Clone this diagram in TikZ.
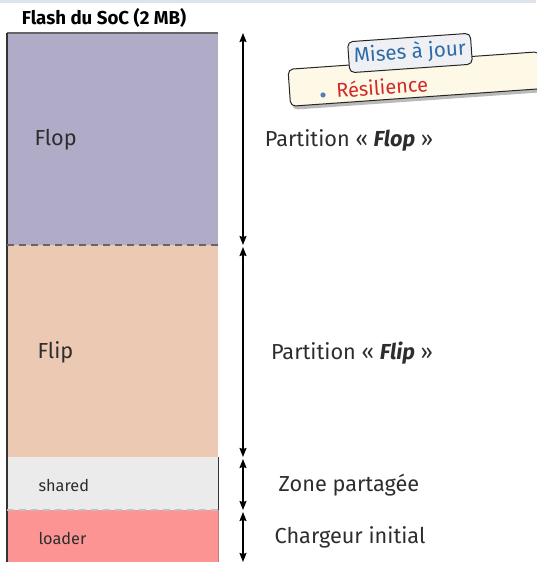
\documentclass[tikz,border=0pt]{standalone}
\usepackage{fontspec}
\setmainfont{Fira Sans}
\usetikzlibrary{arrows.meta,shadows}

\definecolor{flopcol}{RGB}{176,171,198}
\definecolor{flipcol}{RGB}{236,201,178}
\definecolor{sharedcol}{RGB}{235,235,235}
\definecolor{loadercol}{RGB}{252,148,148}
\definecolor{txtcol}{RGB}{45,45,45}
\definecolor{bandcol}{RGB}{222,228,236}
\definecolor{notecol}{RGB}{253,249,230}
\definecolor{tabcol}{RGB}{238,240,244}
\definecolor{tabtxt}{RGB}{46,106,166}
\definecolor{redtxt}{RGB}{212,40,40}

\tikzset{
  region/.style={inner sep=0pt, outer sep=0pt, minimum width=211pt, anchor=north west},
  inlabel/.style={anchor=west, text=txtcol, font=\fontsize{21.7}{25}\selectfont},
  smalllabel/.style={anchor=west, text=txtcol, font=\fontsize{16.3}{19}\selectfont},
  sidelabel/.style={text=txtcol, font=\fontsize{21.7}{25}\selectfont},
  span/.style={line width=1.3pt, {Stealth[length=9pt,width=7pt,inset=1pt]}-{Stealth[length=9pt,width=7pt,inset=1pt]}},
  sep/.style={dashed, dash pattern=on 7pt off 5pt, line width=1.2pt, draw=black!60},
}

\begin{document}
\begin{tikzpicture}[x=1pt,y=1pt]
\useasboundingbox (0,0) rectangle (536,-562);
\fill[bandcol] (0,0) rectangle (536,-3);

% title
\node[text=black, font=\fontsize{18.7}{22}\selectfont\bfseries] (title) at (104,-18) {Flash du SoC (2 MB)};

% flash memory regions
\node[region, fill=flopcol, minimum height=212pt] (flop) at (7,-33) {};
\node[region, fill=flipcol, minimum height=212pt] (flip) at (7,-245) {};
\node[region, fill=sharedcol, minimum height=53pt] (shared) at (7,-457) {};
\node[region, fill=loadercol, minimum height=52pt] (loader) at (7,-510) {};

\draw[line width=1.2pt, black!60] (flop.north west) -- (flop.north east);
\draw[line width=1.2pt, black!80] (flop.north west) -- (loader.south west);
\draw[line width=1pt, black!80] (shared.north east) -- (shared.south east);
\draw[line width=0.8pt, loadercol!80!black] (loader.north east) -- (loader.south east);
\draw[sep] (flop.south west) -- (flop.south east);
\draw[sep, draw=black!25] (shared.south west) -- (shared.south east);

\node[inlabel] (floplbl) at (31,-140) {Flop};
\node[inlabel] (fliplbl) at (34,-352) {Flip};
\node[smalllabel] (sharedlbl) at (35,-485) {shared};
\node[smalllabel] (loaderlbl) at (35,-538) {loader};

% extents
\coordinate (a0) at (243,-33);
\coordinate (a1) at (243,-245);
\coordinate (a2) at (243,-247);
\coordinate (a3) at (243,-457);
\coordinate (a4) at (243,-459);
\coordinate (a5) at (243,-510);
\coordinate (a6) at (243,-512);
\coordinate (a7) at (243,-562);
\draw[span] (a0) -- (a1);
\draw[span] (a2) -- (a3);
\draw[span] (a4) -- (a5);
\draw[span] (a6) -- (a7);

\node[sidelabel] (flopside) at (349,-140) {Partition « \textbf{\textit{Flop}} »};
\node[sidelabel] (flipside) at (352,-353) {Partition « \textbf{\textit{Flip}} »};
\node[sidelabel] (sharedside) at (349,-485) {Zone partagée};
\node[sidelabel] (loaderside) at (350,-537) {Chargeur initial};

% sticky note
\node[rotate=4, draw=black!85, line width=1pt, fill=notecol, rounded corners=5pt,
      minimum width=252pt, minimum height=37pt, inner sep=0pt,
      drop shadow={shadow xshift=2pt, shadow yshift=-3.5pt, opacity=0.45, fill=black!60}]
      (note) at (415,-79) {};
\node[rotate=4, draw=black!85, line width=1pt, fill=tabcol, rounded corners=5pt,
      minimum width=123pt, minimum height=31pt, inner sep=0pt,
      text=tabtxt, font=\fontsize{20.6}{24}\selectfont] (tab) at (410,-53) {Mises à jour};
\node[rotate=4, anchor=west, text=redtxt, font=\fontsize{20}{23}\selectfont, inner sep=0pt] (res) at (336,-90) {Résilience};
\fill[tabtxt!85] (323,-95) circle (2.6pt);
\end{tikzpicture}
\end{document}
